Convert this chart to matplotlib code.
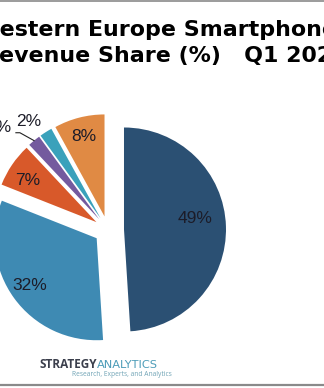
import math
import matplotlib
matplotlib.use("Agg")
import matplotlib.pyplot as plt

# ---- data ----
title_line1 = "Western Europe Smartphone"
title_line2 = "Revenue Share (%)   Q1 2020"
shares = [49, 32, 7, 2, 2, 8]
labels = [f"{v}%" for v in shares]
colors = ["#2B5073", "#3E8AB3", "#D8592A", "#745A9E", "#3AA1BB", "#E08A44"]
logo_a = "STRATEGY"
logo_b = "ANALYTICS"
logo_sub = "Research, Experts, and Analytics"

# ---- layout (pixel units, y up) ----
W, H = 324, 388
center = (108, 158)
radius = 102
explode = [16, 14, 14, 14, 14, 14]
# per-label (radial factor, angle nudge in degrees)
label_pos = [(0.71, 7), (0.80, -1), (0.79, 3), (1.33, 8), (1.18, 4), (0.81, 0)]

fig = plt.figure(figsize=(W / 100, H / 100), dpi=100)
ax = fig.add_axes([0, 0, 1, 1])
ax.set_xlim(0, W)
ax.set_ylim(0, H)
ax.set_aspect("equal")
ax.axis("off")

wedges, _ = ax.pie(shares, colors=colors, startangle=90, counterclock=False,
                   center=center, radius=radius, explode=explode,
                   wedgeprops=dict(linewidth=0))
ax.set_xlim(0, W)
ax.set_ylim(0, H)

for w, lab, (f, d) in zip(wedges, labels, label_pos):
    th = math.radians((w.theta1 + w.theta2) / 2 + d)
    cx, cy = w.center
    lx = cx + f * w.r * math.cos(th)
    ly = cy + f * w.r * math.sin(th)
    ax.text(lx, ly, lab, ha="center", va="center", fontsize=12.5,
            family="Liberation Sans", color="#1c1c28")

# leader line for the purple slice label
w = wedges[3]
f, d = label_pos[3]
th = math.radians((w.theta1 + w.theta2) / 2 + d)
cx, cy = w.center
lx = cx + f * w.r * math.cos(th)
ly = cy + f * w.r * math.sin(th)
tb = math.radians((w.theta1 + w.theta2) / 2)
ex = cx + w.r * math.cos(tb)
ey = cy + w.r * math.sin(tb)
ax.plot([lx + 17, lx + 21, ex], [ly - 5, ly - 5, ey], color="#222222", lw=0.8)

# title
ax.text(-24.5, H - 35.5, title_line1, ha="left", va="baseline", fontsize=15.9,
        fontweight="bold", family="DejaVu Sans", color="#000000")
ax.text(-17.5, H - 62, title_line2, ha="left", va="baseline", fontsize=15.9,
        fontweight="bold", family="DejaVu Sans", color="#000000")

# logo
ax.text(40, H - 368, logo_a, ha="left", va="baseline", fontsize=8.5,
        fontweight="bold", family="Open Sans", color="#3b3f4c")
ax.text(97, H - 368, logo_b, ha="left", va="baseline", fontsize=8.2,
        fontweight="normal", family="DejaVu Sans", color="#4C9CB8")
ax.text(172, H - 376, logo_sub, ha="right", va="baseline", fontsize=4.8,
        family="Open Sans", color="#6FA3B5")

# frame lines
ax.plot([0, W], [H - 0.7, H - 0.7], color="#8a8a8a", lw=1.2, solid_capstyle="butt")
ax.plot([0, W], [3, 3], color="#8a8a8a", lw=1.6, solid_capstyle="butt")

fig.savefig("out.png", dpi=100)
